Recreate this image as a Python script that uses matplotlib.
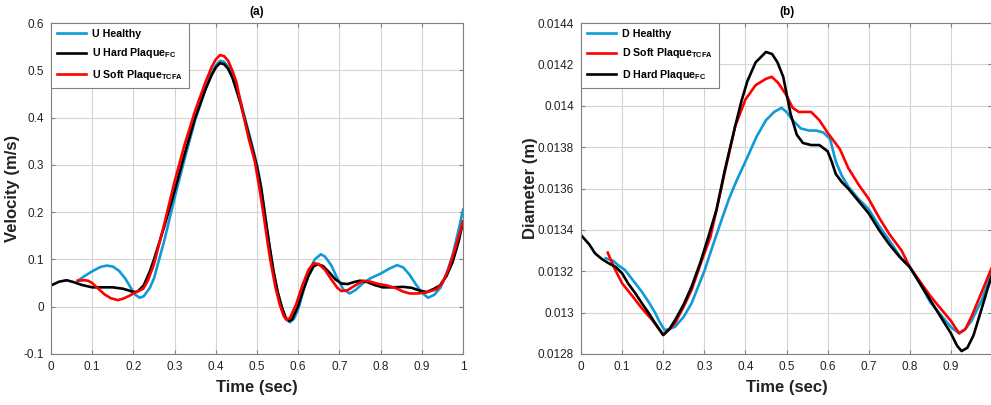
import matplotlib
matplotlib.use("Agg")
import matplotlib.pyplot as plt
from matplotlib.ticker import FuncFormatter

plt.rcParams["font.family"] = ["Liberation Sans", "DejaVu Sans"]
plt.rcParams["mathtext.fontset"] = "custom"
plt.rcParams["mathtext.rm"] = "Liberation Sans"
plt.rcParams["mathtext.bf"] = "Liberation Sans:bold"

# =====================================================
#  data
# =====================================================
# (a) velocity (m/s)
t_u_healthy = [0.065, 0.08, 0.1, 0.12, 0.135, 0.15, 0.165, 0.18, 0.195, 0.205, 0.215, 0.225, 0.24,
               0.25, 0.275, 0.3, 0.325, 0.35, 0.375, 0.39, 0.4, 0.41, 0.42, 0.43, 0.44, 0.45,
               0.46, 0.475, 0.49, 0.5, 0.51, 0.52, 0.53, 0.54, 0.55, 0.56, 0.57, 0.58, 0.59,
               0.6, 0.61, 0.625, 0.64, 0.655, 0.665, 0.68, 0.695, 0.71, 0.725, 0.74, 0.755,
               0.775, 0.8, 0.82, 0.84, 0.855, 0.87, 0.885, 0.9, 0.915, 0.93, 0.945, 0.96,
               0.975, 0.99, 1.0]
u_healthy = [0.055, 0.064, 0.075, 0.084, 0.087, 0.085, 0.076, 0.06, 0.038, 0.025, 0.019, 0.022,
             0.04, 0.06, 0.14, 0.23, 0.315, 0.395, 0.46, 0.495, 0.51, 0.52, 0.518, 0.508, 0.49,
             0.462, 0.435, 0.385, 0.335, 0.3, 0.255, 0.19, 0.13, 0.075, 0.03, -0.003, -0.026,
             -0.033, -0.025, -0.005, 0.025, 0.07, 0.1, 0.111, 0.106, 0.088, 0.06, 0.036, 0.028,
             0.036, 0.048, 0.06, 0.07, 0.08, 0.088, 0.083, 0.068, 0.048, 0.03, 0.019, 0.025,
             0.04, 0.07, 0.11, 0.165, 0.205]

t_u_hard = [0, 0.02, 0.038, 0.055, 0.075, 0.1, 0.125, 0.15, 0.175, 0.19, 0.2, 0.21, 0.225, 0.24,
            0.25, 0.275, 0.3, 0.325, 0.35, 0.375, 0.39, 0.4, 0.41, 0.42, 0.43, 0.44, 0.45, 0.46,
            0.475, 0.49, 0.5, 0.51, 0.52, 0.53, 0.54, 0.55, 0.56, 0.57, 0.578, 0.585, 0.6,
            0.61, 0.625, 0.637, 0.647, 0.66, 0.675, 0.69, 0.705, 0.72, 0.735, 0.75, 0.765,
            0.785, 0.805, 0.83, 0.855, 0.875, 0.895, 0.912, 0.93, 0.944, 0.96, 0.975, 0.99, 1.0]
u_hard = [0.045, 0.053, 0.056, 0.052, 0.046, 0.041, 0.041, 0.041, 0.038, 0.034, 0.031, 0.032,
          0.045, 0.075, 0.1, 0.17, 0.245, 0.325, 0.4, 0.46, 0.49, 0.506, 0.515, 0.513, 0.503,
          0.485, 0.458, 0.43, 0.38, 0.33, 0.295, 0.25, 0.19, 0.13, 0.075, 0.032, 0.0, -0.024,
          -0.03, -0.027, 0.002, 0.03, 0.065, 0.085, 0.09, 0.086, 0.073, 0.058, 0.049, 0.048,
          0.052, 0.055, 0.053, 0.046, 0.041, 0.041, 0.042, 0.04, 0.034, 0.031, 0.038, 0.045,
          0.065, 0.095, 0.14, 0.18]

t_u_soft = [0.065, 0.08, 0.09, 0.1, 0.115, 0.13, 0.145, 0.162, 0.175, 0.19, 0.2, 0.212, 0.224,
            0.235, 0.25, 0.275, 0.3, 0.325, 0.35, 0.375, 0.39, 0.4, 0.41, 0.42, 0.43, 0.44,
            0.45, 0.467, 0.48, 0.495, 0.505, 0.515, 0.525, 0.532, 0.545, 0.555, 0.565, 0.572,
            0.58, 0.595, 0.61, 0.625, 0.637, 0.65, 0.665, 0.68, 0.695, 0.705, 0.72, 0.74,
            0.758, 0.775, 0.795, 0.815, 0.835, 0.855, 0.871, 0.89, 0.91, 0.936, 0.95, 0.965,
            0.98, 1.0]
u_soft = [0.055, 0.056, 0.055, 0.05, 0.038, 0.026, 0.018, 0.014, 0.017, 0.023, 0.028, 0.033,
          0.038, 0.055, 0.09, 0.175, 0.265, 0.345, 0.415, 0.475, 0.507, 0.523, 0.532, 0.53,
          0.52, 0.5, 0.475, 0.405, 0.355, 0.306, 0.255, 0.2, 0.14, 0.1, 0.04, 0.005, -0.02,
          -0.028, -0.024, 0.005, 0.045, 0.078, 0.092, 0.09, 0.078, 0.058, 0.04, 0.033, 0.035,
          0.046, 0.055, 0.053, 0.048, 0.045, 0.04, 0.032, 0.028, 0.028, 0.03, 0.037, 0.05,
          0.08, 0.12, 0.18]

# (b) diameter (m)
t_d_healthy = [0.06, 0.078, 0.09, 0.107, 0.125, 0.148, 0.165, 0.18, 0.19, 0.203, 0.215, 0.229,
               0.25, 0.269, 0.3, 0.32, 0.342, 0.36, 0.379, 0.4, 0.427, 0.45, 0.47, 0.488, 0.5,
               0.515, 0.535, 0.555, 0.573, 0.59, 0.606, 0.62, 0.635, 0.65, 0.675, 0.7, 0.725,
               0.75, 0.78, 0.8, 0.825, 0.85, 0.875, 0.9, 0.92, 0.935, 0.95, 0.975, 1.0]
d_healthy = [0.013263, 0.013251, 0.01323, 0.013206, 0.01316, 0.013101, 0.01305, 0.013, 0.01296,
             0.012916, 0.01292, 0.012932, 0.01298, 0.013045, 0.0132, 0.01332, 0.013448,
             0.01355, 0.01364, 0.01373, 0.01385, 0.01393, 0.01397, 0.01399, 0.01397, 0.01393,
             0.01389, 0.01388, 0.01388, 0.01387, 0.01384, 0.01373, 0.01366, 0.01361, 0.01355,
             0.0135, 0.01342, 0.01335, 0.01326, 0.01322, 0.01314, 0.01305, 0.01299, 0.01293,
             0.0129, 0.01292, 0.01296, 0.01306, 0.0132]

t_d_soft = [0.065, 0.08, 0.1, 0.125, 0.148, 0.175, 0.2, 0.215, 0.229, 0.25, 0.269, 0.29, 0.315,
            0.33, 0.35, 0.375, 0.4, 0.425, 0.45, 0.464, 0.48, 0.5, 0.515, 0.53, 0.56, 0.58,
            0.6, 0.63, 0.65, 0.675, 0.7, 0.725, 0.75, 0.78, 0.8, 0.825, 0.85, 0.875, 0.9,
            0.92, 0.935, 0.95, 0.975, 1.0]
d_soft = [0.01329, 0.01322, 0.013142, 0.01308, 0.013021, 0.01296, 0.012892, 0.01292, 0.012949,
          0.01303, 0.013109, 0.01323, 0.013367, 0.0135, 0.01368, 0.0139, 0.01403, 0.0141,
          0.01413, 0.01414, 0.01411, 0.01405, 0.01399, 0.01397, 0.01397, 0.01393, 0.01387,
          0.01379, 0.0137, 0.01362, 0.01355, 0.01346, 0.01338, 0.0133, 0.01322, 0.01315,
          0.01308, 0.01302, 0.01296, 0.0129, 0.01292, 0.01298, 0.0131, 0.01322]

t_d_hard = [0, 0.02, 0.034, 0.05, 0.067, 0.085, 0.1, 0.115, 0.132, 0.15, 0.165, 0.18, 0.2, 0.215,
            0.229, 0.25, 0.269, 0.29, 0.31, 0.33, 0.35, 0.375, 0.39, 0.405, 0.425, 0.45, 0.465,
            0.478, 0.486, 0.492, 0.5, 0.51, 0.525, 0.54, 0.56, 0.58, 0.6, 0.61, 0.62, 0.635,
            0.65, 0.675, 0.7, 0.725, 0.75, 0.775, 0.8, 0.825, 0.85, 0.875, 0.9, 0.915, 0.926,
            0.94, 0.955, 0.975, 0.99, 1.0]
d_hard = [0.013375, 0.01333, 0.013287, 0.01326, 0.013239, 0.01322, 0.01319, 0.01314, 0.013094,
          0.01304, 0.012997, 0.01295, 0.012892, 0.01292, 0.012964, 0.01304, 0.013125, 0.01324,
          0.013367, 0.0135, 0.01369, 0.0139, 0.01402, 0.01412, 0.01421, 0.01426, 0.01425,
          0.01421, 0.01417, 0.01414, 0.01406, 0.01396, 0.01386, 0.01382, 0.01381, 0.01381,
          0.01378, 0.01373, 0.01367, 0.01363, 0.0136, 0.01354, 0.01348, 0.0134, 0.01333,
          0.01327, 0.01322, 0.01314, 0.01306, 0.01298, 0.0129, 0.01284, 0.012814, 0.01283,
          0.01289, 0.01302, 0.01312, 0.01318]

xticks = [0, 0.1, 0.2, 0.3, 0.4, 0.5, 0.6, 0.7, 0.8, 0.9, 1]
u_ticks = [-0.1, 0, 0.1, 0.2, 0.3, 0.4, 0.5, 0.6]
d_ticks = [0.0128, 0.013, 0.0132, 0.0134, 0.0136, 0.0138, 0.014, 0.0142, 0.0144]

BLUE = "#109ad7"
RED = "#ff0000"
BLACK = "#000000"
LW = 1.9


def style_axes(ax, title, ylabel):
    ax.set_xlim(0, 1)
    ax.set_xticks(xticks)
    ax.xaxis.set_major_formatter(FuncFormatter(lambda v, p: "%g" % v))
    ax.yaxis.set_major_formatter(FuncFormatter(lambda v, p: "%g" % round(v, 6)))
    ax.grid(True, color="#d4d4d4", linewidth=0.8)
    ax.set_axisbelow(True)
    for s in ax.spines.values():
        s.set_color("#808080")
        s.set_linewidth(0.8)
    ax.tick_params(direction="in", top=True, right=True, length=3, color="#808080",
                   labelsize=8.5, labelcolor="#222222", pad=5)
    ax.set_title(title, fontsize=8.5, fontweight="bold", pad=6)
    ax.set_xlabel("Time (sec)", fontsize=12, fontweight="bold", color="#222222", labelpad=5)
    ax.set_ylabel(ylabel, fontsize=12, fontweight="bold", color="#222222")
    leg = ax.legend(loc="upper left", borderaxespad=0, fancybox=False, framealpha=1,
                    edgecolor="#808080", handlelength=2.7, handletextpad=0.6,
                    labelspacing=0.7, borderpad=0.55,
                    prop={"weight": "bold", "size": 7.7})
    leg.get_frame().set_linewidth(0.8)


fig = plt.figure(figsize=(9.91, 4.05), dpi=100)

# (a) velocity
ax1 = fig.add_axes([51 / 991, 51 / 405, 412 / 991, 331 / 405])
ax1.plot(t_u_healthy, u_healthy, color=BLUE, lw=LW, label="U Healthy")
ax1.plot(t_u_hard, u_hard, color=BLACK, lw=LW, label=r"U Hard Plaque$_\mathbf{FC}$")
ax1.plot(t_u_soft, u_soft, color=RED, lw=LW, label=r"U Soft Plaque$_\mathbf{TCFA}$")
ax1.set_ylim(-0.1, 0.6)
ax1.set_yticks(u_ticks)
style_axes(ax1, "(a)", "Velocity (m/s)")
ax1.yaxis.set_label_coords(-0.075, 0.5)

# (b) diameter
ax2 = fig.add_axes([581 / 991, 51 / 405, 411 / 991, 331 / 405])
ax2.plot(t_d_healthy, d_healthy, color=BLUE, lw=LW, label="D Healthy")
ax2.plot(t_d_soft, d_soft, color=RED, lw=LW, label=r"D Soft Plaque$_\mathbf{TCFA}$")
ax2.plot(t_d_hard, d_hard, color=BLACK, lw=LW, label=r"D Hard Plaque$_\mathbf{FC}$")
ax2.set_ylim(0.0128, 0.0144)
ax2.set_yticks(d_ticks)
style_axes(ax2, "(b)", "Diameter (m)")
ax2.yaxis.set_label_coords(-0.105, 0.5)

fig.savefig("out.png", dpi=100)
plt.close(fig)
